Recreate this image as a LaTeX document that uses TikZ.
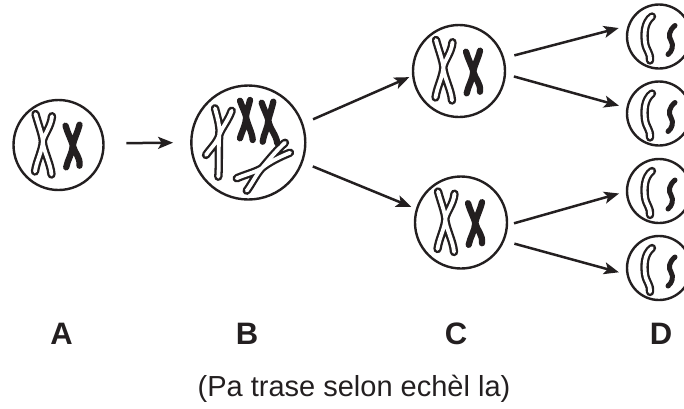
\documentclass[tikz,border=0pt]{standalone}
\usepackage{fontspec}
\setmainfont{Liberation Sans}
\usetikzlibrary{arrows.meta}
\definecolor{ink}{HTML}{231F20}
\tikzset{
  cell/.style={circle, draw=ink, line width=2.4pt, inner sep=0pt, minimum size=#1},
  wout/.style={draw=ink, line width=8.4pt, line cap=round, line join=round},
  win/.style={draw=white, line width=3.8pt, line cap=round, line join=round},
  blk/.style={draw=ink, line width=6.3pt, line cap=round, line join=round},
  arr/.style={draw=ink, line width=2.5pt, -{Stealth[length=15pt,width=12pt,inset=3.5pt]}},
  lab/.style={anchor=base, text=ink, font=\bfseries\fontsize{31}{36}\selectfont},
  captext/.style={anchor=base, text=ink, font=\fontsize{29}{34}\selectfont},
  pics/pairAC/.style={code={
    \def\wpath{(-23,-31) .. controls (-20,-20) and (-16,-10) .. (-15.7,-3.5) .. controls (-16,5) and (-22,16) .. (-23.5,26.5)
      (-6.5,-28.8) .. controls (-7.5,-18) and (-15,-10) .. (-15.7,-3.5) .. controls (-15,6) and (-8,18) .. (-7,29.5)}
    \draw[wout] \wpath; \draw[win] \wpath;
    \draw[blk] (7,-19.3) .. controls (9,-12) and (13,-5) .. (14.3,0.5) .. controls (14,8) and (9,15) .. (7.7,22.3)
      (21,-20.3) .. controls (19,-12) and (15,-5) .. (14.3,0.5) .. controls (16,8) and (22,12) .. (21,20.7);
  }},
  pics/setB/.style={code={
    \def\wpath{(-33.3,-34.2) .. controls (-30,-22) and (-28,-14) .. (-29,-7.5) .. controls (-31,0) and (-38,6) .. (-42.3,12.5)
      (-16.6,-31.8) .. controls (-20,-22) and (-27,-14) .. (-29,-7.5) .. controls (-30,5) and (-29,22) .. (-30,34.2)
      (36.7,0.2) .. controls (28,8) and (20,18) .. (13.4,25.8) .. controls (6,30) and (-3,32) .. (-11.6,35.8)
      (41.7,10.2) .. controls (32,14) and (20,20) .. (13.4,25.8) .. controls (8,32) and (3,42) .. (-1.6,48.2)}
    \draw[wout] \wpath; \draw[win] \wpath;
    \draw[blk] (-8.3,-41.8) .. controls (-6,-35) and (-3,-30) .. (-2.3,-25.8) .. controls (-2,-18) and (-7,-10) .. (-8.3,-4.2)
      (1.7,-42.5) .. controls (0,-35) and (-2,-30) .. (-2.3,-25.8) .. controls (-1,-18) and (4,-10) .. (4.4,-2.5)
      (13.4,-39.8) .. controls (16,-32) and (19,-27) .. (20,-22.5) .. controls (20,-15) and (15,-8) .. (14.4,-0.8)
      (25,-40.8) .. controls (23,-32) and (21,-27) .. (20,-22.5) .. controls (21,-14) and (28,-8) .. (29,0.8);
  }},
  pics/setD/.style={code={
    \def\wpath{(-7,-20) .. controls (-15,-14) and (-15,-2) .. (-14,6) .. controls (-13,14) and (-8,17) .. (-9,24)}
    \draw[wout] \wpath; \draw[win] \wpath;
    \draw[blk, line width=5pt] (16,-11) .. controls (10,-6) and (9,0) .. (12,4) .. controls (15,9) and (13,15) .. (9,18);
  }}
}
\begin{document}
\begin{tikzpicture}[x=1pt, y=-1pt]
  \useasboundingbox (0,0) rectangle (684,408);
  \clip (0,0) rectangle (684,408);
  % cells
  \node[cell=90pt]  (A)  at (58.5,145)  {};
  \node[cell=114pt] (B)  at (248.3,142.5) {};
  \node[cell=92pt]  (C1) at (459,71)    {};
  \node[cell=92pt]  (C2) at (461,222.5) {};
  \node[cell=64pt]  (D1) at (659,36.5)  {};
  \node[cell=64pt]  (D2) at (659,113.5) {};
  \node[cell=64pt]  (D3) at (659,191)   {};
  \node[cell=64pt]  (D4) at (659,268)   {};
  % contents
  \pic at (A.center)  {pairAC};
  \pic at (C1.center) {pairAC};
  \pic at (C2.center) {pairAC};
  \pic at (B.center)  {setB};
  \pic at (D1.center) {setD};
  \pic at (D2.center) {setD};
  \pic at (D3.center) {setD};
  \pic at (D4.center) {setD};
  % arrows
  \draw[arr, shorten <=21.6pt, shorten >=17pt] (A.2.6) -- (B.180);
  \draw[arr, shorten <=10.6pt, shorten >=3pt] (B.19.5) -- (C1.186);
  \draw[arr, shorten <=10.6pt, shorten >=5pt] (B.340.5) -- (C2.163);
  \draw[arr, shorten <=10.3pt, shorten >=9.2pt] (C1.16.5) -- (D1.161.3);
  \draw[arr, shorten <=8.1pt, shorten >=7.6pt] (C1.356.8) -- (D2.170.1);
  \draw[arr, shorten <=6.1pt, shorten >=7pt] (C2.357.3) -- (D3.181);
  \draw[arr, shorten <=10.3pt, shorten >=7.8pt] (C2.337.5) -- (D4.191.6);
  % labels
  \node[lab] (lA) at (61.5,344) {A};
  \node[lab] (lB) at (247,344) {B};
  \node[lab] (lC) at (456,344) {C};
  \node[lab] (lD) at (661,344) {D};
  \node[captext] (capt) at (354,396) {(Pa trase selon echèl la)};
\end{tikzpicture}
\end{document}
